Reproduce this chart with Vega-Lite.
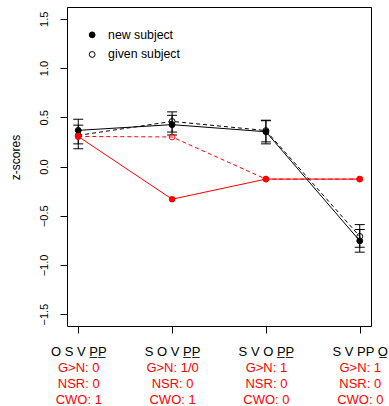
{
  "$schema": "https://vega.github.io/schema/vega-lite/v6.json",
  "width": 304,
  "height": 319,
  "autosize": {"type": "none"},
  "padding": {"left": 67, "top": 7, "right": 18, "bottom": 80},
  "background": "white",
  "config": {
    "font": "Liberation Sans",
    "view": {"stroke": "black", "strokeWidth": 1},
    "axis": {"grid": false, "domain": false, "tickColor": "black", "labelColor": "black", "titleColor": "black", "labelOverlap": false, "labelBound": false, "labelFlush": false}
  },
  "datasets": {
    "main": [
      {"pos": 1, "group": "data", "subject": "new subject", "z": 0.367, "lo": 0.23, "hi": 0.48},
      {"pos": 2, "group": "data", "subject": "new subject", "z": 0.425, "lo": 0.32, "hi": 0.52},
      {"pos": 3, "group": "data", "subject": "new subject", "z": 0.353, "lo": 0.25, "hi": 0.465},
      {"pos": 4, "group": "data", "subject": "new subject", "z": -0.755, "lo": -0.87, "hi": -0.64},
      {"pos": 1, "group": "data", "subject": "given subject", "z": 0.316, "lo": 0.18, "hi": 0.42},
      {"pos": 2, "group": "data", "subject": "given subject", "z": 0.458, "lo": 0.35, "hi": 0.555},
      {"pos": 3, "group": "data", "subject": "given subject", "z": 0.365, "lo": 0.23, "hi": 0.47},
      {"pos": 4, "group": "data", "subject": "given subject", "z": -0.71, "lo": -0.82, "hi": -0.59},
      {"pos": 1, "group": "model", "subject": "new subject", "z": 0.305},
      {"pos": 2, "group": "model", "subject": "new subject", "z": -0.332},
      {"pos": 3, "group": "model", "subject": "new subject", "z": -0.128},
      {"pos": 4, "group": "model", "subject": "new subject", "z": -0.128},
      {"pos": 1, "group": "model", "subject": "given subject", "z": 0.305},
      {"pos": 2, "group": "model", "subject": "given subject", "z": 0.30},
      {"pos": 3, "group": "model", "subject": "given subject", "z": -0.128},
      {"pos": 4, "group": "model", "subject": "given subject", "z": -0.128}
    ]
  },
  "data": {"name": "main"},
  "layer": [
    {
      "encoding": {
        "x": {
          "field": "pos", "type": "quantitative",
          "scale": {"domain": [0.88, 4.12], "nice": false, "zero": false},
          "axis": {
            "orient": "bottom", "title": null, "values": [1, 2, 3, 4],
            "tickSize": 7, "labelPadding": 22.3, "labelBaseline": "alphabetic",
            "labelFontSize": 13, "labelColor": "black",
            "labelExpr": "['', 'O S V P̲P̲', 'S O V P̲P̲', 'S V O P̲P̲', 'S V PP O̲'][datum.value]"
          }
        }
      },
      "layer": [
        {
          "transform": [{"filter": "datum.group === 'model' && datum.subject === 'new subject'"}],
          "mark": {"type": "line", "color": "#FF0000", "strokeWidth": 1},
          "encoding": {
            "y": {"field": "z", "type": "quantitative", "scale": {"domain": [-1.62, 1.62], "nice": false, "zero": false},
              "axis": {"title": "z-scores", "values": [-1.5, -1, -0.5, 0, 0.5, 1, 1.5], "format": ".1f", "tickSize": 7,
                "labelAngle": 270, "labelAlign": "center", "labelBaseline": "alphabetic", "labelPadding": 12.7, "labelFontSize": 11,
                "titleFontSize": 12, "titleFontWeight": "normal", "titleAngle": 270, "titleX": -47.7, "titleY": 150,
                "titleBaseline": "alphabetic", "titleAlign": "center"}}
          }
        },
        {
          "transform": [{"filter": "datum.group === 'model' && datum.subject === 'given subject'"}],
          "mark": {"type": "line", "color": "#FF0000", "strokeWidth": 1, "strokeDash": [4, 3]},
          "encoding": {
            "y": {"field": "z", "type": "quantitative", "axis": {"title": "z-scores"}}
          }
        },
        {
          "transform": [{"filter": "datum.group === 'data' && datum.subject === 'new subject'"}],
          "mark": {"type": "line", "color": "black", "strokeWidth": 1},
          "encoding": {
            "y": {"field": "z", "type": "quantitative", "axis": {"title": "z-scores"}}
          }
        },
        {
          "transform": [{"filter": "datum.group === 'data' && datum.subject === 'given subject'"}],
          "mark": {"type": "line", "color": "black", "strokeWidth": 1, "strokeDash": [4, 3]},
          "encoding": {
            "y": {"field": "z", "type": "quantitative", "axis": {"title": "z-scores"}}
          }
        },
        {
          "transform": [{"filter": "datum.group === 'data'"}],
          "mark": {"type": "rule", "color": "black", "strokeWidth": 1},
          "encoding": {
            "y": {"field": "lo", "type": "quantitative", "axis": {"title": "z-scores"}},
            "y2": {"field": "hi"}
          }
        },
        {
          "transform": [{"filter": "datum.group === 'data'"}],
          "mark": {"type": "tick", "color": "black", "orient": "horizontal", "size": 10, "thickness": 1, "opacity": 1},
          "encoding": {
            "y": {"field": "lo", "type": "quantitative", "axis": {"title": "z-scores"}}
          }
        },
        {
          "transform": [{"filter": "datum.group === 'data'"}],
          "mark": {"type": "tick", "color": "black", "orient": "horizontal", "size": 10, "thickness": 1, "opacity": 1},
          "encoding": {
            "y": {"field": "hi", "type": "quantitative", "axis": {"title": "z-scores"}}
          }
        },
        {
          "transform": [{"filter": "datum.group === 'data'"}],
          "mark": {"type": "point", "shape": "circle", "filled": true, "stroke": "black", "strokeWidth": 1, "size": 34, "opacity": 1},
          "encoding": {
            "y": {"field": "z", "type": "quantitative", "axis": {"title": "z-scores"}},
            "fill": {
              "field": "subject", "type": "nominal",
              "scale": {"domain": ["new subject", "given subject"], "range": ["black", "transparent"]},
              "legend": {
                "title": null, "orient": "none", "legendX": 19, "legendY": 21.7, "padding": 0,
                "symbolType": "circle", "symbolSize": 34, "symbolStrokeColor": "black", "symbolStrokeWidth": 1,
                "labelFontSize": 12.3, "labelColor": "black", "labelOffset": 9.8, "rowPadding": 6.6
              }
            }
          }
        },
        {
          "transform": [{"filter": "datum.group === 'model' && datum.subject === 'given subject'"}],
          "mark": {"type": "point", "shape": "circle", "filled": false, "color": "#FF0000", "strokeWidth": 1, "size": 34, "opacity": 1},
          "encoding": {
            "y": {"field": "z", "type": "quantitative", "axis": {"title": "z-scores"}}
          }
        },
        {
          "transform": [{"filter": "datum.group === 'model' && datum.subject === 'new subject'"}],
          "mark": {"type": "point", "shape": "circle", "filled": true, "color": "#FF0000", "size": 40, "opacity": 1},
          "encoding": {
            "y": {"field": "z", "type": "quantitative", "axis": {"title": "z-scores"}}
          }
        }
      ]
    },
    {
      "transform": [{"filter": "datum.group === 'model'"}],
      "mark": {"type": "point", "opacity": 0},
      "encoding": {
        "x": {
          "field": "pos", "type": "quantitative",
          "scale": {"domain": [0.88, 4.12], "nice": false, "zero": false},
          "axis": {
            "orient": "bottom", "title": null, "values": [1, 2, 3, 4],
            "ticks": false, "labelPadding": 45.3, "labelBaseline": "alphabetic", "labelLineHeight": 16.3,
            "labelFontSize": 13, "labelColor": "#FF0000",
            "labelExpr": "[[''], ['G>N: 0', 'NSR: 0', 'CWO: 1'], ['G>N: 1/0', 'NSR: 0', 'CWO: 1'], ['G>N: 1', 'NSR: 0', 'CWO: 0'], ['G>N: 1', 'NSR: 0', 'CWO: 0']][datum.value]"
          }
        },
        "y": {"field": "z", "type": "quantitative", "axis": {"title": "z-scores"}}
      }
    }
  ],
  "resolve": {"scale": {"x": "independent"}}
}
